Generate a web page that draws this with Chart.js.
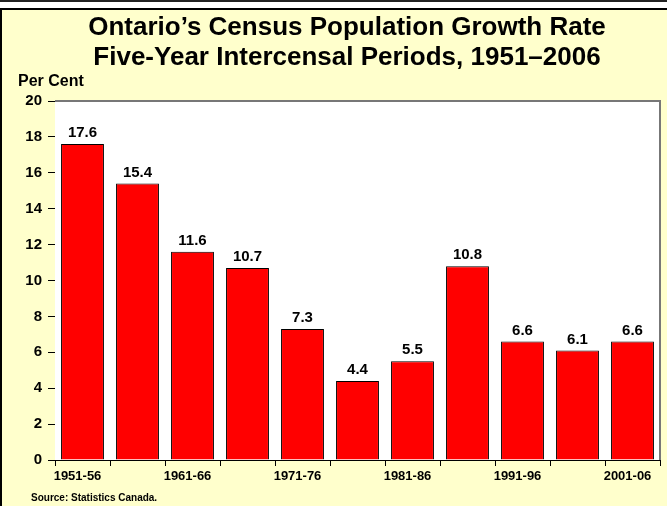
<!DOCTYPE html>
<html>
<head>
<meta charset="utf-8">
<script src="https://cdn.jsdelivr.net/npm/chart.js@4/dist/chart.umd.min.js"></script>
<style>
  body { margin: 0; background: #fff; }
  #topline { position: absolute; left: 0; top: 0; width: 667px; height: 2px; background: #222; }
  #panel { position: absolute; left: 0; top: 8px; width: 665px; height: 496px; background: #FFFFCC;
           border-left: 2px solid #000; border-top: 2px solid #000; }
  canvas { display: block; }
</style>
</head>
<body>
<div id="topline"></div>
<div id="panel"><canvas id="chart" width="665" height="496"></canvas></div>
<script>
const periods = ['1951-56', '1956-61', '1961-66', '1966-71', '1971-76', '1976-81',
                 '1981-86', '1986-91', '1991-96', '1996-01', '2001-06'];
const growthRate = [17.6, 15.4, 11.6, 10.7, 7.3, 4.4, 5.5, 10.8, 6.6, 6.1, 6.6];
const titleLines = ['Ontario\u2019s Census Population Growth Rate',
                    'Five-Year Intercensal Periods, 1951\u20132006'];
const yLabel = 'Per Cent';
const sourceNote = 'Source: Statistics Canada.';

const FONT = 'Arial, "Liberation Sans", sans-serif';

// extra drawing: plot background, frame, titles, value labels
const decorations = {
    id: 'decorations',
    beforeDatasetsDraw(chart) {
        const { ctx, chartArea: a } = chart;
        ctx.save();
        ctx.fillStyle = '#fff';
        ctx.fillRect(a.left, a.top, a.right - a.left, a.bottom - a.top);
        ctx.restore();
    },
    afterDraw(chart) {
        const { ctx, chartArea: a } = chart;
        ctx.save();
        // gray frame on top and right of plot
        ctx.strokeStyle = '#777';
        ctx.lineWidth = 2;
        ctx.beginPath();
        ctx.moveTo(a.left, a.top);
        ctx.lineTo(a.right, a.top);
        ctx.lineTo(a.right, a.bottom);
        ctx.stroke();

        ctx.fillStyle = '#000';
        ctx.textBaseline = 'middle';
        ctx.textAlign = 'center';
        ctx.font = 'bold 26px ' + FONT;
        ctx.fillText(titleLines[0], 345, 18);
        ctx.fillText(titleLines[1], 345, 48);

        ctx.textAlign = 'left';
        ctx.font = 'bold 16px ' + FONT;
        ctx.fillText(yLabel, 16, 72);
        ctx.font = 'bold 10px ' + FONT;
        ctx.fillText(sourceNote, 29, 488);

        // value labels above bars
        const meta = chart.getDatasetMeta(0);
        ctx.textAlign = 'center';
        ctx.textBaseline = 'alphabetic';
        ctx.font = 'bold 15px ' + FONT;
        meta.data.forEach((bar, i) => {
            ctx.fillText(growthRate[i].toFixed(1), bar.x, bar.y - 7);
        });
        ctx.restore();
    }
};

new Chart(document.getElementById('chart'), {
    type: 'bar',
    data: {
        labels: periods,
        datasets: [{
            data: growthRate,
            backgroundColor: '#FF0000',
            borderColor: '#000',
            borderWidth: 1,
            barPercentage: 0.78,
            categoryPercentage: 1
        }]
    },
    options: {
        responsive: false,
        animation: false,
        layout: { padding: { left: 0, right: 7, top: 91, bottom: 0 } },
        plugins: {
            legend: { display: false },
            tooltip: { enabled: false }
        },
        scales: {
            x: {
                afterFit: (scale) => { scale.height = 46; },
                grid: { drawOnChartArea: false, offset: true, tickLength: 6, color: '#000' },
                border: { display: true, color: '#000', width: 1 },
                ticks: {
                    autoSkip: false,
                    maxRotation: 0,
                    padding: 3,
                    labelOffset: -5,
                    color: '#000',
                    font: { family: FONT, size: 13, weight: 'bold' },
                    callback: (v, i) => (i % 2 === 0 ? periods[i] : '')
                }
            },
            y: {
                min: 0,
                max: 20,
                afterFit: (scale) => { scale.width = 53; },
                grid: { drawOnChartArea: false, tickLength: 7, color: '#000' },
                border: { display: true, color: '#000', width: 1 },
                ticks: {
                    stepSize: 2,
                    padding: 6,
                    color: '#000',
                    font: { family: FONT, size: 15, weight: 'bold' }
                }
            }
        }
    },
    plugins: [decorations]
});
</script>
</body>
</html>
